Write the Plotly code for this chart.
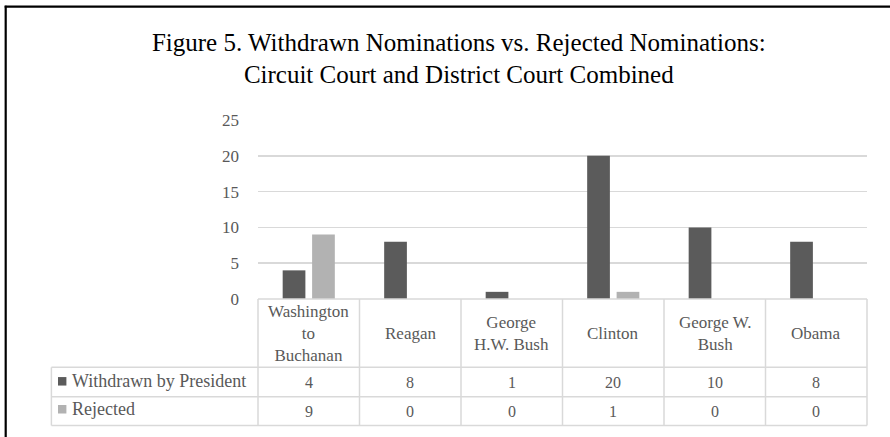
import plotly.graph_objects as go

# ---- data ----
categories = ["Washington to Buchanan", "Reagan", "George H.W. Bush", "Clinton", "George W. Bush", "Obama"]
category_labels = ["Washington<br>to<br>Buchanan", "Reagan", "George<br>H.W. Bush", "Clinton", "George W.<br>Bush", "Obama"]
series_names = ["Withdrawn by President", "Rejected"]
withdrawn = [4, 8, 1, 20, 10, 8]
rejected = [9, 0, 0, 1, 0, 0]
y_ticks = [0, 5, 10, 15, 20, 25]

# ---- layout geometry (pixels) ----
W, H = 890, 437
L, R, T, B = 258.3, 22.7, 120.0, 137.7
plot_w = W - L - R
plot_h = H - T - B

def px(x):
    return (x - L) / plot_w

def py(y):
    return (H - B - y) / plot_h

FONT = "Liberation Serif"
TXT = "#595959"
GRID = "#d9d9d9"
colors = ["#5b5b5b", "#b2b2b2"]

fig = go.Figure()
for name, vals, col in zip(series_names, [withdrawn, rejected], colors):
    fig.add_trace(go.Bar(x=categories, y=vals, name=name, marker=dict(color=col, line=dict(width=0)),
                         hoverinfo="skip", showlegend=False))

shapes = []
n = len(categories)
# table vertical lines
row_tops = [H - B, 367.7, 397.3, 426.0]
for i in range(n + 1):
    shapes.append(dict(type="line", xref="paper", yref="paper", x0=i / n, x1=i / n,
                       y0=py(row_tops[0]), y1=py(row_tops[-1]), line=dict(color=GRID, width=1.5)))
# legend column left edge
shapes.append(dict(type="line", xref="paper", yref="paper", x0=px(51.7), x1=px(51.7),
                   y0=py(row_tops[1]), y1=py(row_tops[-1]), line=dict(color=GRID, width=1.5)))
# horizontal lines
shapes.append(dict(type="line", xref="paper", yref="paper", x0=0, x1=1,
                   y0=py(row_tops[0]), y1=py(row_tops[0]), line=dict(color=GRID, width=1.5)))
for yy in row_tops[1:]:
    shapes.append(dict(type="line", xref="paper", yref="paper", x0=px(51.7), x1=1,
                       y0=py(yy), y1=py(yy), line=dict(color=GRID, width=1.5)))
# legend squares
for (y0, y1), col in zip([(377.5, 386.0), (405.5, 414.0)], colors):
    shapes.append(dict(type="rect", xref="paper", yref="paper", x0=px(58.3), x1=px(66.7),
                       y0=py(y1), y1=py(y0), fillcolor=col, line=dict(width=0)))
# outer frame (top and left)
shapes.append(dict(type="line", xref="paper", yref="paper", x0=px(5.0), x1=px(W + 5),
                   y0=py(6.5), y1=py(6.5), line=dict(color="#000000", width=2.2)))
shapes.append(dict(type="line", xref="paper", yref="paper", x0=px(6.0), x1=px(6.0),
                   y0=py(5.5), y1=py(H + 5), line=dict(color="#000000", width=2.2)))

annotations = []
for cat, lab in zip(categories, category_labels):
    annotations.append(dict(x=cat, xref="x", y=py(333.8), yref="paper", text=lab, showarrow=False,
                            font=dict(family=FONT, size=17, color=TXT), align="center",
                            xanchor="center", yanchor="middle"))
for vals, yc in zip([withdrawn, rejected], [382.5, 411.6]):
    for cat, v in zip(categories, vals):
        annotations.append(dict(x=cat, xref="x", y=py(yc), yref="paper", text=str(v), showarrow=False,
                                font=dict(family=FONT, size=16, color=TXT),
                                xanchor="center", yanchor="middle"))
for name, yc in zip(series_names, [381.5, 409.6]):
    annotations.append(dict(x=px(70.5), xref="paper", y=py(yc), yref="paper", text=name, showarrow=False,
                            font=dict(family=FONT, size=18, color=TXT), xanchor="left", yanchor="middle"))

fig.update_layout(
    width=W, height=H,
    margin=dict(l=L, r=R, t=T, b=B, pad=0),
    paper_bgcolor="white", plot_bgcolor="white",
    barmode="group", bargap=0.42, bargroupgap=0.228,
    title=dict(text="Figure 5. Withdrawn Nominations vs. Rejected Nominations:<br>Circuit Court and District Court Combined",
               x=0.5155, xanchor="center", y=1 - 50.5 / H, yanchor="middle", yref="container",
               font=dict(family=FONT, size=25, color="#000000")),
    xaxis=dict(type="category", range=[-0.5, n - 0.5], showticklabels=False, showgrid=False,
               zeroline=False, showline=False, ticks=""),
    yaxis=dict(range=[0, 25], tickvals=y_ticks, showgrid=True, gridcolor=GRID, gridwidth=1.5,
               zeroline=False, showline=False, ticks="", ticklabelstandoff=18,
               tickfont=dict(family=FONT, size=17, color=TXT)),
    shapes=shapes, annotations=annotations,
    font=dict(family=FONT, color=TXT),
)

fig.write_html("out.html", config={"displayModeBar": False, "staticPlot": True},
               post_script="document.body.style.margin='0';document.body.style.overflow='hidden';")
